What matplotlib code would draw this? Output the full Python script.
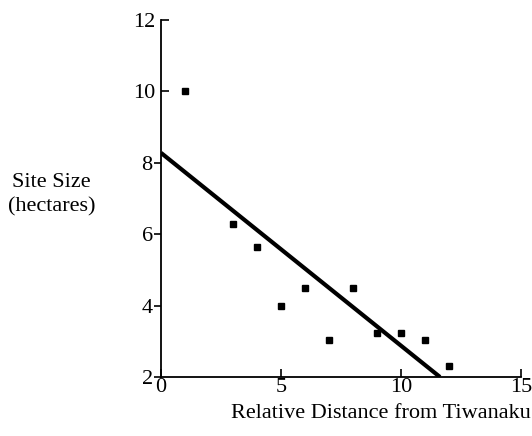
import matplotlib.pyplot as plt
import matplotlib.ticker as mticker

# relative distance vs. site size
distance = [1, 3, 4, 5, 6, 7, 8, 9, 10, 11, 12]
site_size = [10.0, 6.3, 5.65, 4.0, 4.5, 3.05, 4.5, 3.22, 3.22, 3.05, 2.3]

# regression line end points
line_x = [0, 11.63]
line_y = [8.28, 2.0]

plt.rcParams['font.family'] = ['Liberation Serif', 'DejaVu Serif']

fig = plt.figure(figsize=(5.32, 4.36), dpi=100)
ax = fig.add_axes([0.3026, 0.1353, 0.979 - 0.3026, 0.954 - 0.1353])

ax.plot(line_x, line_y, color='black', lw=3.0, solid_capstyle='butt')
ax.plot(distance, site_size, 's', color='black', ms=3.8, mec='black')

ax.set_xlim(0, 15)
ax.set_ylim(2, 12)
ax.spines['top'].set_visible(False)
ax.spines['right'].set_visible(False)
for s in ['left', 'bottom']:
    ax.spines[s].set_linewidth(1.3)

ax.set_xticks([0, 5, 10, 15])
ax.tick_params(axis='x', direction='in', length=6, width=1.2, labelsize=16, pad=1)

# the scan has mixed y tick directions: lower ones out, upper ones in
ax.yaxis.set_major_locator(mticker.FixedLocator([2, 4, 6, 8]))
ax.yaxis.set_minor_locator(mticker.FixedLocator([10, 12]))
ax.yaxis.set_minor_formatter(mticker.FormatStrFormatter('%d'))
ax.tick_params(axis='y', which='major', direction='out', length=5, width=1.2, labelsize=16, pad=1)
ax.tick_params(axis='y', which='minor', direction='in', length=6, width=1.2, labelsize=16, pad=4)

fig.text(0.097, 0.553, 'Site Size\n(hectares)', ha='center', va='center',
         fontsize=16, linespacing=1.35)
fig.text(0.715, 0.052, 'Relative Distance from Tiwanaku', ha='center', va='center',
         fontsize=16)

fig.savefig('out.png', dpi=100)
